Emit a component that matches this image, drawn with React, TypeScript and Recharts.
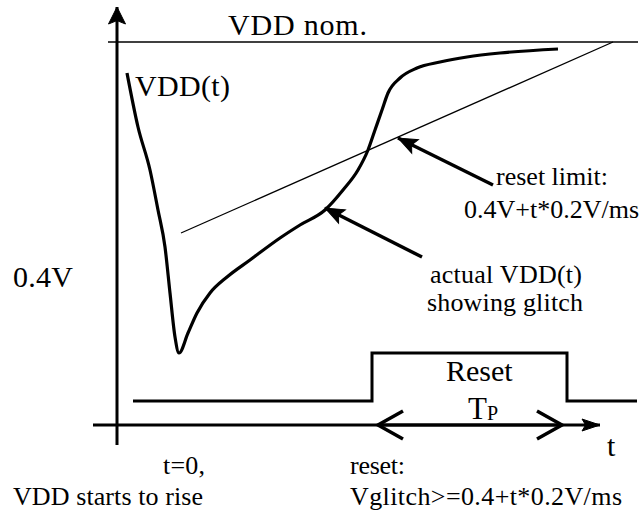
import React from 'react';
import { ComposedChart, Line, XAxis, YAxis, ReferenceDot } from 'recharts';

// time (t) and voltage (v) in arbitrary diagram units
const vddCurve = [
  { t: 1.0, v: 35.2 }, { t: 2.1, v: 29.8 }, { t: 3.3, v: 25.5 }, { t: 4.1, v: 21.5 },
  { t: 4.8, v: 17.8 }, { t: 5.3, v: 13.2 }, { t: 5.8, v: 8.8 }, { t: 6.2, v: 7.2 },
  { t: 7.1, v: 9.2 }, { t: 8.0, v: 11.2 }, { t: 9.3, v: 13.2 }, { t: 11.0, v: 14.8 },
  { t: 13.3, v: 16.5 }, { t: 16.3, v: 18.7 }, { t: 18.3, v: 20.0 }, { t: 20.8, v: 21.5 },
  { t: 22.6, v: 23.5 }, { t: 24.1, v: 25.5 }, { t: 25.1, v: 27.5 }, { t: 25.8, v: 29.5 },
  { t: 26.5, v: 31.5 }, { t: 27.1, v: 33.2 }, { t: 28.3, v: 34.7 }, { t: 30.0, v: 35.7 },
  { t: 32.3, v: 36.3 }, { t: 35.0, v: 36.8 }, { t: 38.3, v: 37.2 }, { t: 44.1, v: 37.6 },
];
const resetLimit = [{ t: 6.4, v: 19.2 }, { t: 49.6, v: 38.3 }];
const vddNominal = [{ t: -0.9, v: 38.3 }, { t: 52.1, v: 38.3 }];
const resetPulse = [
  { t: 1.6, v: 2.4 }, { t: 25.5, v: 2.4 }, { t: 25.5, v: 7.2 },
  { t: 45.0, v: 7.2 }, { t: 45.0, v: 2.4 }, { t: 52.0, v: 2.4 },
];
const timeAxis = [{ t: -2.4, v: 0 }, { t: 48.3, v: 0 }];
const voltAxis = [{ t: 0, v: -2.0 }, { t: 0, v: 41.8 }];
const pulseSpan = [{ t: 26.1, v: 0 }, { t: 44.5, v: 0 }];
const limitPointer = [{ t: 37.6, v: 24.0 }, { t: 28.1, v: 28.7 }];
const glitchPointer = [{ t: 30.5, v: 16.8 }, { t: 20.8, v: 21.7 }];

const labels = [
  { id: 'nom', text: 'VDD nom.', t: 11.1, v: 39.0 },
  { id: 'vddt', text: 'VDD(t)', t: 1.8, v: 32.9 },
  { id: 'v04', text: '0.4V', t: -10.4, v: 13.8 },
  { id: 'lim1', text: 'reset limit:', t: 37.9, v: 24.0 },
  { id: 'lim2', text: '0.4V+t*0.2V/ms', t: 34.7, v: 20.7 },
  { id: 'act1', text: 'actual VDD(t)', t: 31.3, v: 14.2 },
  { id: 'act2', text: 'showing glitch', t: 31.0, v: 11.4 },
  { id: 'reset', text: 'Reset', t: 32.9, v: 4.4 },
  { id: 'taxis', text: 't', t: 49.0, v: -3.1 },
  { id: 't0', text: 't=0,', t: 4.6, v: -4.9 },
  { id: 'rise', text: 'VDD starts to rise', t: -10.4, v: -8.0 },
  { id: 'rst', text: 'reset:', t: 23.3, v: -4.9 },
  { id: 'glitch', text: 'Vglitch>=0.4+t*0.2V/ms', t: 23.3, v: -8.0 },
];
const pulseWidthLabel = { main: 'T', sub: 'P', t: 35.1, v: 0.6 };

const FONT = "'Liberation Serif', 'Times New Roman', Times, 'DejaVu Serif', serif";

const labelStyle: Record<string, { size: number; len?: number }> = {
  nom: { size: 30, len: 139 },
  vddt: { size: 30, len: 95 },
  v04: { size: 30, len: 60 },
  lim1: { size: 26, len: 112 },
  lim2: { size: 26, len: 175 },
  act1: { size: 26, len: 152 },
  act2: { size: 26, len: 156 },
  reset: { size: 30 },
  taxis: { size: 30 },
  t0: { size: 26, len: 42 },
  rise: { size: 26, len: 190 },
  rst: { size: 26, len: 55 },
  glitch: { size: 26, len: 272 },
};

type Pt = { x: number; y: number };

// arrow head drawn at the end of a two-point line, using the line's own pixel points
const arrowDot = (kind: 'solid' | 'open', len: number, half: number, both = false) => (props: any) => {
  const { index, points } = props;
  const pts: Pt[] = points || [];
  const last = pts.length - 1;
  const key = `arrow-${index}`;
  let tip: Pt | undefined;
  let from: Pt | undefined;
  if (index === last && last > 0) {
    tip = pts[last];
    from = pts[last - 1];
  } else if (both && index === 0 && last > 0) {
    tip = pts[0];
    from = pts[1];
  }
  if (!tip || !from) return <g key={key} />;
  const deg = (Math.atan2(tip.y - from.y, tip.x - from.x) * 180) / Math.PI;
  if (kind === 'open') {
    return (
      <polyline
        key={key}
        points={`${-len},${-half} 0,0 ${-len},${half}`}
        transform={`translate(${tip.x},${tip.y}) rotate(${deg})`}
        fill="none"
        stroke="#000"
        strokeWidth={3.5}
      />
    );
  }
  return (
    <polygon
      key={key}
      points={`0,0 ${-len},${-half} ${-len * 0.8},0 ${-len},${half}`}
      transform={`translate(${tip.x},${tip.y}) rotate(${deg})`}
      fill="#000"
      stroke="#000"
      strokeWidth={1}
    />
  );
};

const App: React.FC = () => {
  return (
    <div style={{ position: 'absolute', left: 0, top: 0, width: 642, height: 512, background: '#fff' }}>
      <ComposedChart width={642} height={512} margin={{ top: 0, right: 0, bottom: 0, left: 0 }}>
        <XAxis type="number" dataKey="t" domain={[-11.7, 52.5]} allowDataOverflow hide />
        <YAxis type="number" dataKey="v" domain={[-8.7, 42.5]} allowDataOverflow hide />

        <Line data={vddNominal} dataKey="v" type="linear" stroke="#000" strokeWidth={1.5}
          dot={false} activeDot={false} isAnimationActive={false} />
        <Line data={resetLimit} dataKey="v" type="linear" stroke="#000" strokeWidth={1.3}
          dot={false} activeDot={false} isAnimationActive={false} />
        <Line data={vddCurve} dataKey="v" type="monotone" stroke="#000" strokeWidth={3.2}
          dot={false} activeDot={false} isAnimationActive={false} />
        <Line data={resetPulse} dataKey="v" type="linear" stroke="#000" strokeWidth={3}
          dot={false} activeDot={false} isAnimationActive={false} />

        <Line data={voltAxis} dataKey="v" type="linear" stroke="#000" strokeWidth={3}
          dot={arrowDot('solid', 17, 8.5)} activeDot={false} isAnimationActive={false} />
        <Line data={timeAxis} dataKey="v" type="linear" stroke="#000" strokeWidth={3}
          dot={arrowDot('solid', 18, 6)} activeDot={false} isAnimationActive={false} />
        <Line data={pulseSpan} dataKey="v" type="linear" stroke="#000" strokeWidth={3}
          dot={arrowDot('open', 25, 14, true)} activeDot={false} isAnimationActive={false} />
        <Line data={limitPointer} dataKey="v" type="linear" stroke="#000" strokeWidth={3.5}
          dot={arrowDot('solid', 19, 7.5)} activeDot={false} isAnimationActive={false} />
        <Line data={glitchPointer} dataKey="v" type="linear" stroke="#000" strokeWidth={3.5}
          dot={arrowDot('solid', 19, 7.5)} activeDot={false} isAnimationActive={false} />

        {labels.map((l) => {
          const s = labelStyle[l.id];
          return (
            <ReferenceDot
              key={l.id}
              x={l.t}
              y={l.v}
              r={0}
              ifOverflow="visible"
              shape={(p: any) => (
                <text x={p.cx} y={p.cy} style={{ fontFamily: FONT, fontSize: s.size }} fill="#000"
                  textLength={s.len} lengthAdjust={s.len ? 'spacing' : undefined}>
                  {l.text}
                </text>
              )}
            />
          );
        })}
        <ReferenceDot
          x={pulseWidthLabel.t}
          y={pulseWidthLabel.v}
          r={0}
          ifOverflow="visible"
          shape={(p: any) => (
            <text x={p.cx} y={p.cy} style={{ fontFamily: FONT, fontSize: 31 }} fill="#000">
              {pulseWidthLabel.main}
              <tspan style={{ fontSize: 20 }} dy={1}>{pulseWidthLabel.sub}</tspan>
            </text>
          )}
        />
      </ComposedChart>
    </div>
  );
};

export default App;
